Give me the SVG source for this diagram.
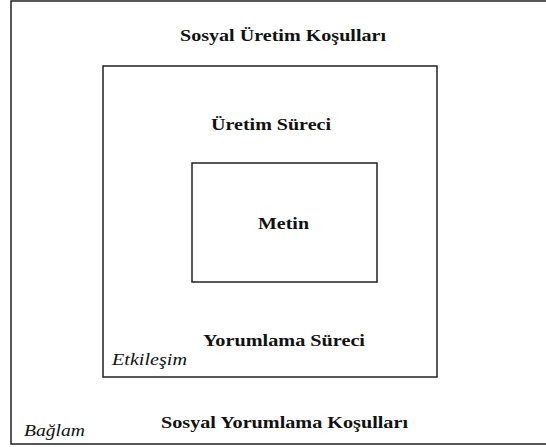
<svg xmlns="http://www.w3.org/2000/svg" width="546" height="447" viewBox="0 0 546 447">
<style>
.box{fill:none;stroke:#222;stroke-width:1.5}
.b{font-family:'Liberation Serif','Times New Roman',serif;font-weight:bold;font-size:17px;fill:#111}
.i{font-family:'Liberation Serif','Times New Roman',serif;font-style:italic;font-size:17px;fill:#111}
</style>
<rect width="546" height="447" fill="#fff"/>
<g id="baglam">
<rect class="box" x="11" y="1" width="540" height="443"/>
<text class="b" x="180" y="41" textLength="206" lengthAdjust="spacingAndGlyphs">Sosyal Üretim Koşulları</text>
<text class="b" x="161" y="428" textLength="247" lengthAdjust="spacingAndGlyphs">Sosyal Yorumlama Koşulları</text>
<text class="i" x="24" y="436" textLength="61" lengthAdjust="spacingAndGlyphs">Bağlam</text>
</g>
<g id="etkilesim">
<rect class="box" x="103" y="66" width="334" height="311"/>
<text class="b" x="211" y="130" textLength="120" lengthAdjust="spacingAndGlyphs">Üretim Süreci</text>
<text class="b" x="203" y="346" textLength="162" lengthAdjust="spacingAndGlyphs">Yorumlama Süreci</text>
<text class="i" x="112" y="365" textLength="75" lengthAdjust="spacingAndGlyphs">Etkileşim</text>
</g>
<g id="metin">
<rect class="box" x="192" y="163" width="185" height="119"/>
<text class="b" x="258" y="229" textLength="51" lengthAdjust="spacingAndGlyphs">Metin</text>
</g>
<g id="connectors"/>
</svg>
